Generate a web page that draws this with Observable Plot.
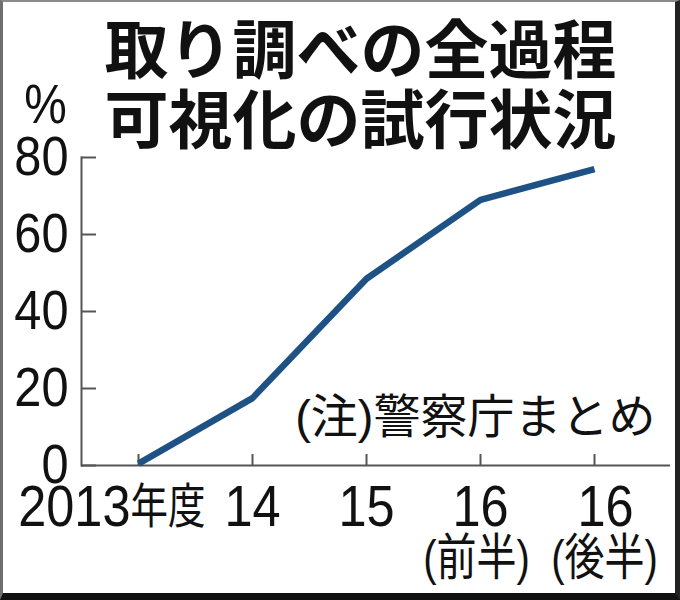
<!DOCTYPE html>
<html>
<head>
<meta charset="utf-8">
<script src="https://cdn.jsdelivr.net/npm/d3@7"></script>
<script src="https://cdn.jsdelivr.net/npm/@observablehq/plot@0.6"></script>
<style>
  html, body { margin: 0; padding: 0; background: #fff; }
  #wrap { position: relative; width: 680px; height: 600px; overflow: hidden; background: #fff; }
  #border { position: absolute; left: 0; top: 0; width: 680px; height: 600px; box-sizing: border-box;
    border-left: 3px solid #6f6f6f; border-top: 2px solid #8a8a8a; border-right: 5px solid #222; border-bottom: 7px solid #111;
    pointer-events: none; }
</style>
</head>
<body>
<div id="wrap"><div id="border"></div></div>
<script>
// ---- data ----
const categories = ["2013年度", "14", "15", "16前半", "16後半"];
const values = [0.5, 17.5, 48.5, 69, 77];
const tickLabels = ["2013", "14", "15", "16", "16"];
const yearSuffix = "年度";
const subLabels = ["", "", "", "(前半)", "(後半)"];
const yTicks = [0, 20, 40, 60, 80];
const titleText = "取り調べの全過程\n可視化の試行状況";
const unitText = "%";
const noteText = "(注)警察庁まとめ";

const rows = categories.map((c, i) => ({cat: c, value: values[i], label: tickLabels[i], sub: subLabels[i]}));

// ---- layout ----
const W = 680, H = 600;
const mL = 81, mR = 10, mT = 157, mB = 135;
const frameW = W - mL - mR, frameH = H - mT - mB;
const axisColor = "#555";
const lineColor = "#1f5284";

const svg = Plot.plot({
  width: W, height: H,
  marginLeft: mL, marginRight: mR, marginTop: mT, marginBottom: mB,
  style: {fontFamily: "'Liberation Sans', 'Noto Sans CJK JP', sans-serif", color: "#111", background: "transparent"},
  x: {type: "point", domain: categories, padding: 0.572, align: 0.427, axis: null},
  y: {domain: [0, 80], axis: null},
  marks: [
    // axis lines
    Plot.ruleY([0], {stroke: axisColor, strokeWidth: 2}),
    Plot.frame({anchor: "left", stroke: axisColor, strokeWidth: 2}),
    // inward y ticks
    Plot.ruleY(yTicks, {y: d => d, stroke: axisColor, strokeWidth: 2, insetRight: frameW - 15}),
    // inward x ticks
    Plot.ruleX(categories, {x: d => d, stroke: axisColor, strokeWidth: 2, insetTop: frameH - 11}),
    // y tick labels
    Plot.axisY(yTicks, {tickSize: 0, tickPadding: 13, fontSize: 56, label: null, fill: "#111"}),
    // data line
    Plot.line(rows, {x: "cat", y: "value", stroke: lineColor, strokeWidth: 6.5, strokeLinejoin: "miter", strokeLinecap: "butt"}),
    // x labels
    Plot.text(rows, {filter: (d, i) => i === 0, x: "cat", text: "label", frameAnchor: "bottom", lineAnchor: "bottom",
      textAnchor: "end", dx: -8, dy: 60, fontSize: 58, fill: "#111"}),
    Plot.text([yearSuffix], {x: () => categories[0], text: d => d, frameAnchor: "bottom", lineAnchor: "bottom",
      textAnchor: "start", dx: -8, dy: 57, fontSize: 48, fill: "#111"}),
    Plot.text(rows, {filter: (d, i) => i > 0 && i < 4, x: "cat", text: "label", frameAnchor: "bottom", lineAnchor: "bottom",
      textAnchor: "middle", dy: 60, fontSize: 58, fill: "#111"}),
    Plot.text(rows, {filter: (d, i) => i === 4, x: "cat", text: "label", frameAnchor: "bottom", lineAnchor: "bottom",
      textAnchor: "middle", dx: 11, dy: 60, fontSize: 58, fill: "#111"}),
    Plot.text(rows, {filter: (d, i) => d.sub && i < 4, x: "cat", text: "sub", frameAnchor: "bottom", lineAnchor: "bottom",
      textAnchor: "middle", dx: -4, dy: 109, fontSize: 50, fill: "#111"}),
    Plot.text(rows, {filter: (d, i) => d.sub && i === 4, x: "cat", text: "sub", frameAnchor: "bottom", lineAnchor: "bottom",
      textAnchor: "middle", dx: 10, dy: 109, fontSize: 50, fill: "#111"}),
    // note
    Plot.text([noteText], {text: d => d, frameAnchor: "bottom-right", lineAnchor: "bottom", textAnchor: "end",
      dx: -15, dy: -33, fontSize: 47, fill: "#111"}),
    // unit
    Plot.text([unitText], {text: d => d, frameAnchor: "top-left", lineAnchor: "bottom", textAnchor: "middle",
      dx: -36, dy: -35, fontSize: 55, fill: "#111"}),
    // title
    Plot.text([titleText], {text: d => d, frameAnchor: "top", lineAnchor: "bottom", textAnchor: "middle",
      dx: 360 - (mL + frameW / 2), dy: -15, fontSize: 64, lineHeight: 70 / 64, fontWeight: "bold",
      fontFamily: "'Noto Sans CJK JP', sans-serif", fill: "#111"})
  ]
});

// horizontally condense text groups, picked by their font size
function squeeze(size, s) {
  d3.select(svg).selectAll(`g[font-size='${size}'] text`).each(function () {
    const t = this.getAttribute("transform") || "";
    this.setAttribute("transform", (t + ` scale(${s},1)`).trim());
  });
}
squeeze(56, 0.87); // y tick labels
squeeze(55, 0.87); // unit
squeeze(58, 0.87); // x tick labels
squeeze(48, 0.78); // 年度
squeeze(50, 0.8);  // (前半)(後半)

document.getElementById("wrap").insertBefore(svg, document.getElementById("border"));
</script>
</body>
</html>
